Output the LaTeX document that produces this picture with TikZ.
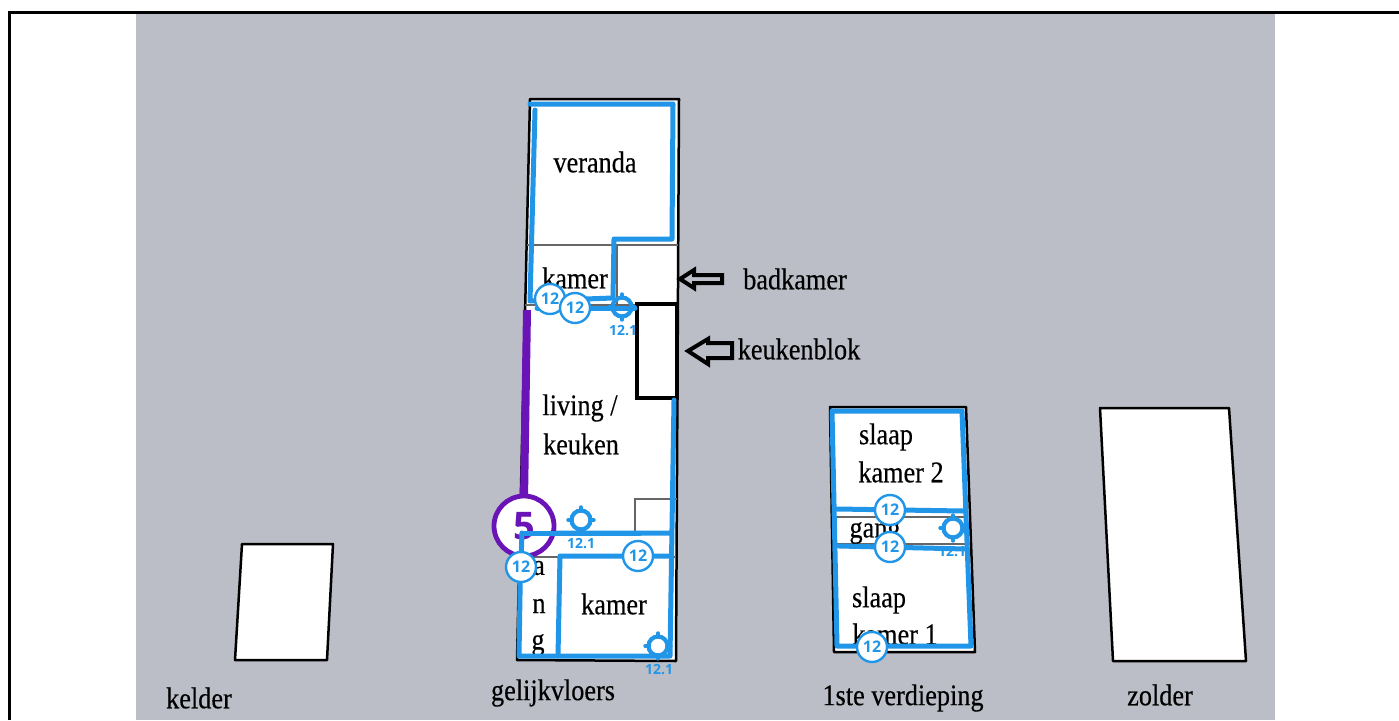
\documentclass[tikz,border=0pt]{standalone}
\usepackage{fontspec}
\setmainfont[FakeStretch=0.875,FakeBold=0.35]{Liberation Serif}
\newfontfamily\numfont{Open Sans}
\definecolor{bgg}{HTML}{BBBEC7}
\definecolor{blu}{HTML}{2196E8}
\definecolor{pur}{HTML}{6A14B8}
\tikzset{
 room/.style={fill=white,draw=black,line width=2.5pt,line join=round},
 thin wall/.style={draw=black!60,line width=1.4pt},
 heavy/.style={draw=black,line width=4.2pt},
 blue wall/.style={draw=blu,line width=5pt,line join=round,line cap=round},
 lab/.style={font=\fontsize{30}{32}\selectfont,text=black,inner sep=0pt},
 badge/.style={circle,draw=blu,line width=2.4pt,fill=white,minimum size=30pt,inner sep=0pt,text=blu,font=\numfont\bfseries\fontsize{16}{16}\selectfont},
 tgt/.style={circle,draw=blu,line width=4.2pt,minimum size=19pt,inner sep=0pt},
 tgtlab/.style={text=blu,inner sep=0pt,font=\numfont\bfseries\fontsize{14}{14}\selectfont},
 arrowic/.style={draw=black,fill=none,line width=4pt,line join=miter}
}
\newcommand{\target}[3]{%
 \node[tgt] (#3) at (#1,#2) {};
 \draw[blu,line width=3.4pt,line cap=round] (#1-13,#2) -- (#1-9,#2) (#1+9,#2) -- (#1+13,#2) (#1,#2-13) -- (#1,#2-9) (#1,#2+9) -- (#1,#2+13);
}
\begin{document}
\begin{tikzpicture}[x=1pt,y=-1pt]
\useasboundingbox (0,0) rectangle (1399,720);
\fill[white] (0,0) rectangle (1399,720);
\fill[bgg] (136,12) rectangle (1275,720);
\draw[black,line width=3pt] (9,720) -- (9,12) -- (1399,12);
% kelder
\draw[room] (242,544) -- (333,544) -- (327,660) -- (235,660) -- cycle;
\node[lab] (kelder) at (199,698) {kelder};
% gelijkvloers
\draw[room] (530,99) -- (679,99) -- (676,661) -- (517,660) -- cycle;
\draw[thin wall] (527,245) -- (678,245);
\draw[thin wall] (617,245) -- (617,304);
\draw[thin wall] (525,305) -- (637,305);
\draw[thin wall] (635,533) -- (635,499) -- (677,499);
\draw[thin wall] (522,557) -- (676,557);
\node[lab] (veranda) at (595,162) {veranda};
\node[lab] (kamerA) at (575,278) {kamer};
\node[lab] (living) at (580,408) {living /};
\node[lab] (keuken) at (581,444) {keuken};
\node[lab] (kamerB) at (614,604) {kamer};
\node[lab] (a) at (539,568) {a};
\node[lab] (n) at (539,606) {n};
\node[lab] (g) at (538,645) {g};
\draw[heavy] (637,304) rectangle (677,398);
\draw[pur,line width=8pt] (527,310) -- (524,500);
% blue gelijkvloers
\draw[blue wall] (530,104) -- (673,104) -- (672,239) -- (614,239) -- (613,298) -- (530,301) -- (535,110);
\draw[blue wall] (537,308) -- (635,308);
\draw[blue wall] (674,400) -- (670,656) -- (519,656) -- (521,533) -- (670,533);
\draw[blue wall] (558,656) -- (560,556) -- (670,556);
\node[lab] (gelijk) at (553,693) {gelijkvloers};
% arrows
\draw[arrowic] (722,275) -- (694,275) -- (694,270) -- (680,279) -- (694,288) -- (694,283) -- (722,283) -- cycle;
\draw[arrowic] (732,343) -- (708,343) -- (708,339) -- (688,351) -- (708,364) -- (708,358) -- (732,358) -- cycle;
\node[lab] (bad) at (795,279) {badkamer};
\node[lab] (keukenblok) at (799,349) {keukenblok};
% purple
\node[circle,draw=pur,line width=4.8pt,fill=white,minimum size=60pt,inner sep=0pt,text=pur,font=\numfont\bfseries\fontsize{38}{38}\selectfont] (five) at (524,526) {5};
\draw[blue wall] (522,533) -- (640,533);
\draw[blue wall] (522,533) -- (521,560);
% verdieping
\draw[room] (830,407) -- (966,407) -- (975,652) -- (834,652) -- cycle;
\draw[thin wall] (835,517) -- (968,517);
\draw[thin wall] (836,544) -- (970,544);
\node[lab] (slaapB) at (886,437) {slaap};
\node[lab] (kamer2) at (901,472) {kamer 2};
\node[lab] (gang) at (875,533) {gang};
\node[lab] (slaapA) at (879,600) {slaap};
\node[lab] (kamer1) at (895,634) {kamer 1};
\node[tgtlab] (ta) at (952,552) {12.1};
\draw[blue wall] (832,411) -- (962,411) -- (971,646) -- (837,646) -- cycle;
\draw[blue wall] (837,509) -- (963,511);
\draw[blue wall] (839,546) -- (966,549);
\target{953}{528}{tc}
% targets
\target{622}{307}{tx}
\node[tgtlab] (tla) at (623,331) {12.1};
\target{581}{520}{ty}
\node[tgtlab] (tlb) at (581,544) {12.1};
\target{658}{646}{tz}
\node[tgtlab] (tlc) at (659,670) {12.1};
% badges
\node[badge] (b1) at (550,299) {12};
\node[badge] (b2) at (575,308) {12};
\node[badge] (b3) at (638,556) {12};
\node[badge] (b4) at (521,567) {12};
\node[badge] (b5) at (890,510) {12};
\node[badge] (b6) at (890,547) {12};
\node[badge] (b7) at (872,647) {12};
% others
\node[lab] (eerste) at (903,698) {1ste verdieping};
\draw[room] (1100,408) -- (1229,408) -- (1246,661) -- (1113,661) -- cycle;
\node[lab] (zolder) at (1160,695) {zolder};
\end{tikzpicture}
\end{document}
